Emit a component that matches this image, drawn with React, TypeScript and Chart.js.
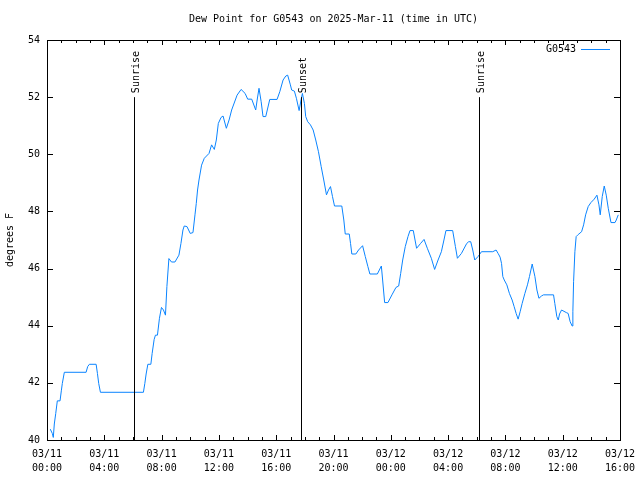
import React, { useEffect, useRef } from "react";
import { Chart, registerables } from "chart.js";

Chart.register(...registerables);

const TITLE = "Dew Point for G0543 on 2025-Mar-11 (time in UTC)";
const Y_TITLE = "degrees F";
const SERIES_NAME = "G0543";
const LINE_COLOR = "#0a84ff";

// hours since 03/11 00:00 UTC
const hours: number[] = [
  0.23, 0.37, 0.44, 0.51, 0.61, 0.72, 0.91, 1.0, 1.07, 1.21, 2.73, 2.84, 2.96, 3.43, 3.52, 3.61, 3.73,
  6.73, 6.83, 6.92, 7.04, 7.25, 7.34, 7.48, 7.57, 7.71, 7.85, 7.99, 8.13, 8.27, 8.37, 8.51, 8.69, 8.93,
  9.21, 9.35, 9.49, 9.58, 9.77, 10.0, 10.19, 10.33, 10.42, 10.51, 10.61, 10.79, 10.98, 11.31, 11.49,
  11.68, 11.82, 11.96, 12.15, 12.29, 12.52, 12.71, 12.89, 13.27, 13.55, 13.83, 14.01, 14.29, 14.57,
  14.67, 14.8, 14.95, 15.08, 15.27, 15.55, 16.06, 16.25, 16.48, 16.67, 16.8, 16.99, 17.08, 17.27,
  17.41, 17.6, 17.74, 17.83, 17.97, 18.06, 18.2, 18.39, 18.58, 18.76, 18.95, 19.14, 19.32, 19.51,
  19.65, 19.79, 19.93, 20.07, 20.58, 20.72, 20.82, 21.1, 21.19, 21.28, 21.56, 21.75, 22.03, 22.22,
  22.4, 22.54, 23.06, 23.2, 23.34, 23.43, 23.57, 23.8, 24.08, 24.36, 24.55, 24.69, 24.83, 25.01,
  25.2, 25.34, 25.57, 25.8, 26.08, 26.32, 26.55, 26.83, 27.06, 27.3, 27.53, 27.71, 27.85, 28.32,
  28.51, 28.65, 28.93, 29.3, 29.44, 29.58, 29.72, 29.86, 30.09, 30.33, 31.12, 31.35, 31.49, 31.63,
  31.73, 31.82, 31.92, 32.1, 32.28, 32.47, 32.61, 32.75, 32.89, 33.03, 33.17, 33.36, 33.54, 33.68,
  33.78, 33.87, 33.96, 34.06, 34.2, 34.34, 34.52, 34.66, 35.36, 35.45, 35.59, 35.69, 35.78, 35.92,
  36.25, 36.38, 36.52, 36.66, 36.71, 36.76, 36.85, 36.94, 37.08, 37.32, 37.46, 37.6, 37.78, 37.97,
  38.2, 38.39, 38.53, 38.62, 38.76, 38.9, 39.04, 39.18, 39.37, 39.65, 39.74, 39.88,
];

const dewPoint: number[] = [
  40.38, 40.23, 40.09, 40.56, 40.93, 41.37, 41.37, 41.72, 41.98, 42.37, 42.37, 42.57, 42.65, 42.65, 42.33, 41.98, 41.67,
  41.67, 41.98, 42.31, 42.65, 42.65, 43.03, 43.52, 43.67, 43.67, 44.26, 44.64, 44.55, 44.37, 45.37, 46.35, 46.23, 46.23,
  46.47, 46.88, 47.35, 47.49, 47.47, 47.23, 47.26, 47.88, 48.28, 48.75, 49.1, 49.62, 49.86, 50.03, 50.33,
  50.17, 50.5, 51.08, 51.29, 51.34, 50.91, 51.2, 51.55, 52.07, 52.27, 52.13, 51.93, 51.93, 51.55,
  51.9, 52.31, 51.84, 51.32, 51.32, 51.92, 51.92, 52.19, 52.6, 52.74, 52.77, 52.43, 52.25, 52.21,
  51.96, 51.53, 51.92, 52.13, 51.78, 51.32, 51.14, 51.03, 50.85, 50.5, 50.09, 49.57, 49.1, 48.58,
  48.75, 48.87, 48.52, 48.19, 48.19, 47.7, 47.21, 47.21, 46.88, 46.51, 46.51, 46.65, 46.8, 46.42,
  46.07, 45.81, 45.81, 45.95, 46.09, 45.6, 44.81, 44.81, 45.08, 45.34, 45.39, 45.83, 46.3, 46.77,
  47.12, 47.33, 47.33, 46.71, 46.88, 47.02, 46.71, 46.36, 45.97, 46.3, 46.59, 47.0, 47.33, 47.33,
  46.77, 46.36, 46.53, 46.88, 46.94, 46.94, 46.65, 46.3, 46.42, 46.59, 46.59, 46.65, 46.53, 46.4,
  46.18, 45.72, 45.6, 45.43, 45.13, 44.9, 44.67, 44.43, 44.23, 44.49, 44.78, 45.13, 45.43, 45.72,
  45.95, 46.16, 45.95, 45.72, 45.25, 44.96, 45.04, 45.08, 45.08, 44.78, 44.32, 44.2, 44.41, 44.55,
  44.46, 44.43, 44.14, 43.99, 44.49, 45.54, 46.59, 47.12, 47.19, 47.29, 47.53, 47.88, 48.17, 48.31,
  48.43, 48.57, 48.23, 47.88, 48.52, 48.89, 48.57, 48.11, 47.61, 47.61, 47.7, 47.88,
];

const eventNames: string[] = ["Sunrise", "Sunset", "Sunrise"];
const eventHours: number[] = [6.1, 17.72, 30.18];
const eventTopValue = 52;

const X_MIN = 0;
const X_MAX = 40;
const Y_MIN = 40;
const Y_MAX = 54;
const xTickDates: string[] = ["03/11", "03/11", "03/11", "03/11", "03/11", "03/11", "03/12", "03/12", "03/12", "03/12", "03/12"];
const xTickTimes: string[] = ["00:00", "04:00", "08:00", "12:00", "16:00", "20:00", "00:00", "04:00", "08:00", "12:00", "16:00"];

const FONT = "'DejaVu Sans Mono', monospace";

const decorPlugin = {
  id: "decor",
  afterDraw(chart: any) {
    const ctx = chart.ctx as CanvasRenderingContext2D;
    const { left, right, top, bottom } = chart.chartArea;
    const xs = chart.scales.x;
    const ys = chart.scales.y;
    ctx.save();
    ctx.strokeStyle = "#000";
    ctx.lineWidth = 1;
    // frame
    ctx.strokeRect(Math.round(left) + 0.5, Math.round(top) + 0.5, Math.round(right - left), Math.round(bottom - top));
    // x ticks (hourly minor, 4h major) on bottom and top
    ctx.beginPath();
    for (let h = X_MIN; h <= X_MAX; h++) {
      const px = Math.round(xs.getPixelForValue(h)) + 0.5;
      const len = h % 4 === 0 ? 5 : 3;
      ctx.moveTo(px, bottom);
      ctx.lineTo(px, bottom - len);
      ctx.moveTo(px, top);
      ctx.lineTo(px, top + len);
    }
    for (let v = Y_MIN; v <= Y_MAX; v += 2) {
      const py = Math.round(ys.getPixelForValue(v)) + 0.5;
      ctx.moveTo(left, py);
      ctx.lineTo(left + 6, py);
      ctx.moveTo(right, py);
      ctx.lineTo(right - 6, py);
    }
    ctx.stroke();
    // events
    ctx.font = `10px ${FONT}`;
    ctx.fillStyle = "#000";
    eventHours.forEach((h, i) => {
      const px = Math.round(xs.getPixelForValue(h)) + 0.5;
      const py = ys.getPixelForValue(eventTopValue);
      ctx.beginPath();
      ctx.moveTo(px, py);
      ctx.lineTo(px, bottom);
      ctx.stroke();
      ctx.save();
      ctx.translate(px + 2, py - 4);
      ctx.rotate(-Math.PI / 2);
      ctx.textAlign = "left";
      ctx.textBaseline = "middle";
      ctx.fillText(eventNames[i], 0, 0);
      ctx.restore();
    });
    // title
    ctx.textAlign = "center";
    ctx.textBaseline = "middle";
    ctx.fillText(TITLE, (left + right) / 2, 19);
    // y title
    ctx.save();
    ctx.translate(10, (top + bottom) / 2);
    ctx.rotate(-Math.PI / 2);
    ctx.fillText(Y_TITLE, 0, 0);
    ctx.restore();
    // legend
    ctx.textAlign = "right";
    ctx.fillText(SERIES_NAME, 576, 49);
    ctx.strokeStyle = LINE_COLOR;
    ctx.beginPath();
    ctx.moveTo(581, 49.5);
    ctx.lineTo(610, 49.5);
    ctx.stroke();
    ctx.restore();
  },
};

export default function App() {
  const ref = useRef<HTMLCanvasElement | null>(null);
  useEffect(() => {
    document.body.style.margin = "0";
    const canvas = ref.current!;
    const chart = new Chart(canvas, {
      type: "line",
      data: {
        datasets: [
          {
            label: SERIES_NAME,
            data: hours.map((h, i) => ({ x: h, y: dewPoint[i] })),
            borderColor: LINE_COLOR,
            borderWidth: 1,
            pointRadius: 0,
            tension: 0,
            fill: false,
          },
        ],
      },
      options: {
        animation: false,
        responsive: false,
        devicePixelRatio: 1,
        layout: { padding: { left: 0, right: 20, top: 40, bottom: 0 } },
        plugins: { legend: { display: false }, title: { display: false }, tooltip: { enabled: false } },
        scales: {
          x: {
            type: "linear",
            min: X_MIN,
            max: X_MAX,
            grid: { display: false, drawTicks: false },
            border: { display: false },
            afterFit(scale: any) {
              scale.height = 40;
              scale.paddingLeft = 0;
              scale.paddingRight = 0;
            },
            afterBuildTicks(scale: any) {
              const t = [];
              for (let h = X_MIN; h <= X_MAX; h += 4) t.push({ value: h });
              scale.ticks = t;
            },
            ticks: {
              maxRotation: 0,
              autoSkip: false,
              padding: 7,
              color: "#000",
              font: { family: FONT, size: 10, lineHeight: 1.4 },
              callback: (v: any) => {
                const i = Math.round(Number(v) / 4);
                return [xTickDates[i], xTickTimes[i]];
              },
            },
          },
          y: {
            type: "linear",
            min: Y_MIN,
            max: Y_MAX,
            grid: { display: false, drawTicks: false },
            border: { display: false },
            afterFit(scale: any) {
              scale.width = 47;
              scale.paddingTop = 0;
              scale.paddingBottom = 0;
            },
            ticks: {
              stepSize: 2,
              padding: 7,
              color: "#000",
              font: { family: FONT, size: 10 },
            },
          },
        },
      },
      plugins: [decorPlugin],
    });
    return () => chart.destroy();
  }, []);
  return (
    <div style={{ position: "absolute", left: 0, top: 0, width: 640, height: 480 }}>
      <canvas ref={ref} width={640} height={480} />
    </div>
  );
}
